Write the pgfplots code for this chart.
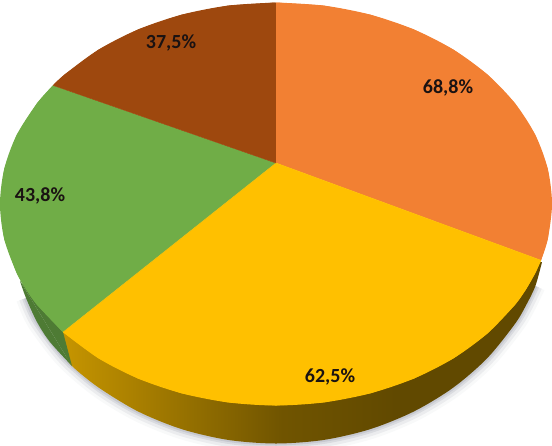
\documentclass[border=0pt]{standalone}
\usepackage{pgfplots}
\usepackage{pgfplotstable}
\usepackage{fontspec}
\setmainfont{Carlito}
\pgfplotsset{compat=1.18}
\definecolor{cOrange}{HTML}{F28033}
\definecolor{cYellow}{HTML}{FFC000}
\definecolor{cGreen}{HTML}{70AD47}
\definecolor{cBrown}{HTML}{9E480E}
\definecolor{cGreenSide}{HTML}{4E7B34}
\definecolor{cLabel}{HTML}{1A1212}
\definecolor{cShadow}{HTML}{7C8090}
\pgfdeclarehorizontalshading{sideshade}{100bp}{
  color(0bp)=(cYellow!80!black);
  color(25bp)=(cYellow!78!black);
  color(48bp)=(cYellow!44!black);
  color(60bp)=(cYellow!38!black);
  color(100bp)=(cYellow!38!black)}
% outer rim of the pie, bottom edge, in picture pixels
\pgfplotstableread{
x y
26 298
37 322
64.6 358
98.6 387.5
138 411.4
181.6 429.1
228.1 439.9
276 443.5
323.9 439.9
370.4 429.1
414 411.4
453.4 387.5
487.4 358
515 323.8
526.1 305.2
535.4 285.9
}\rimtable
\begin{document}
\begin{tikzpicture}
\begin{axis}[
  scale only axis,
  width=552pt, height=445pt,
  xmin=0, xmax=552, ymin=0, ymax=445,
  y dir=reverse,
  hide axis,
  every axis plot/.append style={line width=0.5pt, line join=round},
]
% hide axis leaves the axis box out of the bounding box
\path (rel axis cs:0,0) rectangle (rel axis cs:1,1);

% soft shadow under the rim
\addplot[draw=cShadow, line width=20pt, opacity=0.05, smooth, forget plot] table {\rimtable};
\addplot[draw=cShadow, line width=14pt, opacity=0.10, smooth, forget plot] table {\rimtable};
\addplot[draw=cShadow, line width=8pt, opacity=0.16, smooth, forget plot] table {\rimtable};
\addplot[draw=cShadow, line width=4pt, opacity=0.20, smooth, forget plot] table {\rimtable};

% side wall
\addplot[shading=sideshade, draw=none, smooth] coordinates {
  (60,330) (66,355) (72,366) (98.6,387.5) (138,411.4) (181.6,429.1) (228.1,439.9)
  (276,443.5) (323.9,439.9) (370.4,429.1) (414,411.4) (453.4,387.5) (487.4,358)
  (515,323.8) (526.1,305.2) (535.4,285.9) (542,262)};
\addplot[fill=cGreenSide, draw=none, smooth] coordinates {
  (20,281) (26,298) (37,322) (50,342) (72,366)};
\addplot[fill=cGreenSide, draw=none] coordinates {(20,281) (72,366) (63,332) (20,281)};

% each slice: a polygon from the centre, then the same arc again smoothed on top
% orange, 68.8
\addplot[fill=cOrange, draw=none] coordinates {
  (276,163) (276,2.5) (323.9,5.6) (370.4,14.7) (414,29.5) (453.4,49.6) (487.4,74.5)
  (515,103.3) (535.4,135.1) (547.8,169) (552,204) (547.8,239) (541,260.3)};
\addplot[fill=cOrange, draw=none, smooth] coordinates {
  (276,2.5) (323.9,5.6) (370.4,14.7) (414,29.5) (453.4,49.6) (487.4,74.5)
  (515,103.3) (535.4,135.1) (547.8,169) (552,204) (547.8,239) (541,260.3)};

% yellow, 62.5
\addplot[fill=cYellow, draw=none] coordinates {
  (276,163) (541,260.3) (535.4,272.9) (526.1,289.2) (515,304.8) (487.4,333.5) (453.4,358.4)
  (414,378.5) (370.4,393.3) (323.9,402.4) (276,405.5) (228.1,402.4) (181.6,393.3)
  (138,378.5) (98.6,358.4) (63,332.2)};
\addplot[fill=cYellow, draw=none, smooth] coordinates {
  (541,260.3) (535.4,272.9) (526.1,289.2) (515,304.8) (487.4,333.5) (453.4,358.4)
  (414,378.5) (370.4,393.3) (323.9,402.4) (276,405.5) (228.1,402.4) (181.6,393.3)
  (138,378.5) (98.6,358.4) (63,332.2)};

% green, 43.8
\addplot[fill=cGreen, draw=none] coordinates {
  (276,163) (63,332.2) (37,304.8) (25.9,289.2) (16.6,272.9) (4.2,239) (0,204) (4.2,169)
  (16.6,135.1) (37,103.3) (53,85.3)};
\addplot[fill=cGreen, draw=none, smooth] coordinates {
  (63,332.2) (37,304.8) (25.9,289.2) (16.6,272.9) (4.2,239) (0,204) (4.2,169)
  (16.6,135.1) (37,103.3) (53,85.3)};

% brown, 37.5
\addplot[fill=cBrown, draw=none] coordinates {
  (276,163) (53,85.3) (64.6,74.5) (98.6,49.6) (138,29.5) (181.6,14.7) (228.1,5.6) (276,2.5)};
\addplot[fill=cBrown, draw=none, smooth] coordinates {
  (53,85.3) (64.6,74.5) (98.6,49.6) (138,29.5) (181.6,14.7) (228.1,5.6) (276,2.5)};

% radii, over the seams between the slices
\addplot[draw=cOrange] coordinates {(276,163) (276,2.5)};
\addplot[draw=cYellow] coordinates {(276,163) (541,260.3)};
\addplot[draw=cYellow] coordinates {(276,163) (63,332.2)};
\addplot[draw=cBrown] coordinates {(276,163) (53,85.3)};

\node[font=\fontsize{20}{20}\selectfont\bfseries, text=cLabel] at (axis cs:448,88) {68,8\%};
\node[font=\fontsize{20}{20}\selectfont\bfseries, text=cLabel] at (axis cs:330,377) {62,5\%};
\node[font=\fontsize{20}{20}\selectfont\bfseries, text=cLabel] at (axis cs:40,196) {43,8\%};
\node[font=\fontsize{20}{20}\selectfont\bfseries, text=cLabel] at (axis cs:171,43) {37,5\%};
\end{axis}
\end{tikzpicture}
\end{document}
